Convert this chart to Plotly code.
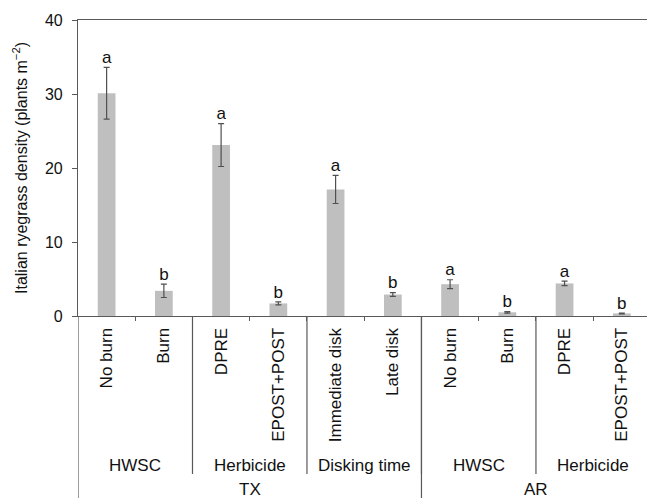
import plotly.graph_objects as go

# ---- data ----
treatments = ["No burn", "Burn", "DPRE", "EPOST+POST", "Immediate disk", "Late disk",
              "No burn", "Burn", "DPRE", "EPOST+POST"]
density = [30.1, 3.4, 23.1, 1.7, 17.1, 2.9, 4.3, 0.5, 4.4, 0.35]
se = [3.5, 0.9, 2.9, 0.2, 1.9, 0.25, 0.6, 0.1, 0.3, 0.05]
letters = ["a", "b", "a", "b", "a", "b", "a", "b", "a", "b"]
factors = ["HWSC", "Herbicide", "Disking time", "HWSC", "Herbicide"]
factor_sizes = [2, 2, 2, 2, 2]
sites = ["TX", "AR"]
site_sizes = [6, 4]
y_ticks = [0, 10, 20, 30, 40]
y_title = "Italian ryegrass density (plants m<sup>−2</sup>)"

FONT = "Liberation Sans, Arial, sans-serif"
AXC = "#595959"
TXT = "#111111"
xs = list(range(len(treatments)))

fig = go.Figure()
fig.add_trace(go.Bar(
    x=xs, y=density, marker=dict(color="#bfbfbf", line=dict(width=0)),
    error_y=dict(type="data", array=se, color="#505050", thickness=1.2, width=3),
    width=0.31, showlegend=False, hoverinfo="skip"))
fig.add_trace(go.Scatter(
    x=xs, y=[d + e for d, e in zip(density, se)], mode="text", text=letters,
    textposition="top center", textfont=dict(family=FONT, size=17, color=TXT),
    showlegend=False, cliponaxis=False, hoverinfo="skip"))

# group separators and labels
def py(pix):  # pixel row -> paper y (plot area spans rows 20..316)
    return (316 - pix) / 296

start = 0
shapes = []
annotations = []
for name, n in zip(factors, factor_sizes):
    annotations.append(dict(x=start + (n - 1) / 2, y=py(465), xref="x", yref="paper",
                            text=name, showarrow=False, yanchor="middle",
                            font=dict(family=FONT, size=17, color=TXT)))
    start += n
    if start < len(treatments):
        shapes.append(dict(type="line", xref="x", yref="paper", x0=start - 0.5, x1=start - 0.5,
                           y0=0, y1=py(474), line=dict(color=AXC, width=1.2)))
start = 0
for name, n in zip(sites, site_sizes):
    annotations.append(dict(x=start + (n - 1) / 2, y=py(489), xref="x", yref="paper",
                            text=name, showarrow=False, yanchor="middle",
                            font=dict(family=FONT, size=17, color=TXT)))
    start += n
    if start < len(treatments):
        shapes.append(dict(type="line", xref="x", yref="paper", x0=start - 0.5, x1=start - 0.5,
                           y0=0, y1=py(510), line=dict(color=AXC, width=1.2)))
shapes.append(dict(type="line", xref="x", yref="paper", x0=-0.5, x1=-0.5,
                   y0=0, y1=py(510), line=dict(color=AXC, width=1.2)))

# y-axis title
annotations.append(dict(x=0, y=0.5, xref="paper", yref="paper", xanchor="center",
                        yanchor="middle", xshift=-58, textangle=-90, text=y_title,
                        showarrow=False, font=dict(family=FONT, size=16, color=TXT)))

fig.update_layout(
    width=647, height=498,
    margin=dict(l=78, r=0, t=20, b=182),
    paper_bgcolor="white", plot_bgcolor="white",
    font=dict(family=FONT, size=15, color=TXT),
    shapes=shapes, annotations=annotations,
    xaxis=dict(range=[-0.5, 9.44], tickmode="array", tickvals=xs, ticktext=treatments,
               tickangle=-90, ticks="", showgrid=False, zeroline=False, automargin=False,
               showline=True, linecolor=AXC, linewidth=1.2, mirror=True,
               tickfont=dict(family=FONT, size=17, color=TXT),
               ticklabelstandoff=4,
               minor=dict(tickmode="array", tickvals=[i + 0.5 for i in xs],
                          ticks="outside", ticklen=4, tickcolor=AXC, tickwidth=1.2)),
    yaxis=dict(range=[0, 40], tickmode="array", tickvals=y_ticks, ticks="outside",
               ticklen=5, tickcolor=AXC, tickwidth=1.2, showgrid=False, zeroline=False,
               showline=True, linecolor=AXC, linewidth=1.2, automargin=False,
               ticklabelstandoff=6,
               tickfont=dict(family=FONT, size=16, color=TXT)),
)
fig.write_html("out.html", config={"displayModeBar": False},
               post_script="document.body.style.margin='0';document.body.style.overflow='hidden';")
